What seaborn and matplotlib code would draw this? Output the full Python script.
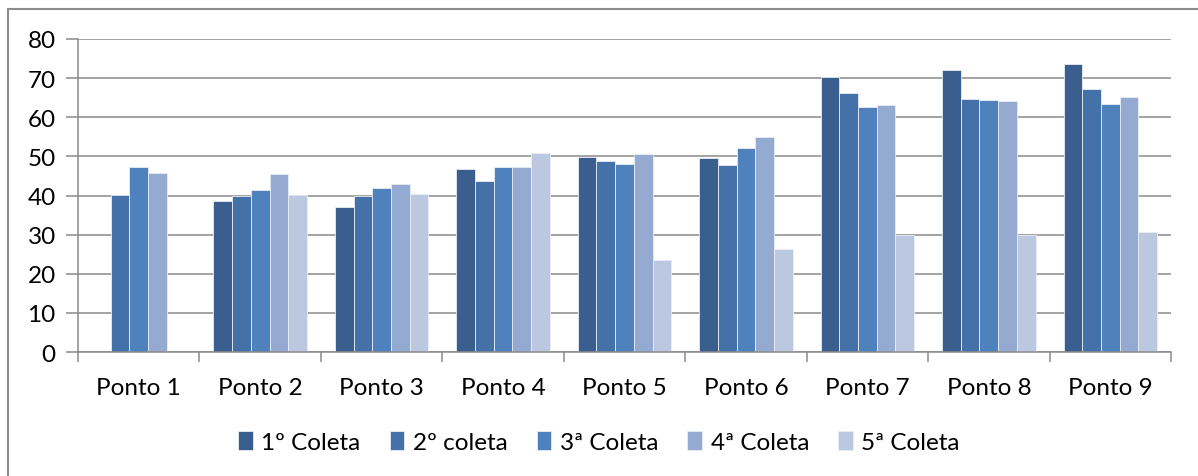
import numpy as np
import pandas as pd
import matplotlib
matplotlib.use("Agg")
import matplotlib.pyplot as plt
from matplotlib.patches import Rectangle
import seaborn as sns

pontos = ['Ponto 1', 'Ponto 2', 'Ponto 3', 'Ponto 4', 'Ponto 5',
          'Ponto 6', 'Ponto 7', 'Ponto 8', 'Ponto 9']
coletas = ['1º Coleta', '2º coleta', '3ª Coleta', '4ª Coleta', '5ª Coleta']

coleta1 = [np.nan, 38.5, 37.0, 46.7, 49.9, 49.6, 70.4, 72.2, 73.6]
coleta2 = [40.2, 40.0, 40.0, 43.6, 48.9, 47.7, 66.1, 64.6, 67.2]
coleta3 = [47.4, 41.5, 42.0, 47.4, 48.1, 52.2, 62.6, 64.5, 63.5]
coleta4 = [45.7, 45.5, 42.9, 47.2, 50.7, 54.9, 63.1, 64.1, 65.2]
coleta5 = [np.nan, 40.2, 40.5, 50.9, 23.4, 26.2, 29.9, 29.9, 30.6]

colors = ['#3a5f8e', '#4472a8', '#4f81bd', '#95aad1', '#bbc8e0']

df = pd.DataFrame({
    'Ponto': pontos * 5,
    'Coleta': [c for c in coletas for _ in pontos],
    'Valor': coleta1 + coleta2 + coleta3 + coleta4 + coleta5,
})

sns.set_style("white")
plt.rcParams['font.family'] = ['Lato', 'DejaVu Sans']
plt.rcParams['text.color'] = 'black'
plt.rcParams['xtick.labelcolor'] = 'black'
plt.rcParams['ytick.labelcolor'] = 'black'

fig = plt.figure(figsize=(11.98, 4.77), dpi=100)
ax = fig.add_axes([78 / 1198, 1 - 353 / 477, (1171 - 78) / 1198, (353 - 40) / 477])

sns.barplot(data=df, x='Ponto', y='Valor', hue='Coleta', order=pontos,
            hue_order=coletas, palette=colors, width=0.77, gap=0,
            edgecolor='#e8edf5', linewidth=0.6, saturation=1, ax=ax)

grid_c = '#8a8a8a'
ax.set_ylim(0, 80)
ax.set_xlim(-0.5, 8.5)
ax.set_yticks(range(0, 81, 10))
ax.yaxis.grid(True, color=grid_c, linewidth=1.1)
ax.set_axisbelow(True)
ax.set_xlabel('')
ax.set_ylabel('')

for s in ['top', 'right']:
    ax.spines[s].set_visible(False)
for s in ['left', 'bottom']:
    ax.spines[s].set_color(grid_c)
    ax.spines[s].set_linewidth(1.1)

ax.tick_params(axis='y', length=9, color=grid_c, width=1.1, labelsize=17.5, pad=7,
               left=True, direction='out')
ax.tick_params(axis='x', which='major', length=0, labelsize=17.5, pad=18)
ax.set_xticks(np.arange(-0.5, 9, 1), minor=True)
ax.tick_params(axis='x', which='minor', length=7, color=grid_c, width=1.1,
               bottom=True, direction='out')

handles, labels = ax.get_legend_handles_labels()
ax.get_legend().remove()
fig.legend(handles, labels, loc='center', bbox_to_anchor=(0.5, 1 - 443 / 477),
           ncol=5, frameon=False, fontsize=17.5, handlelength=0.6,
           handleheight=0.8, handletextpad=0.35, columnspacing=1.2)

fig.patches.append(Rectangle((8 / 1198, -0.1), 1.2, 1.1 - 10 / 477,
                             transform=fig.transFigure, fill=False,
                             edgecolor='#8c8c8c', linewidth=1.5))

fig.savefig('out.png', dpi=100)
